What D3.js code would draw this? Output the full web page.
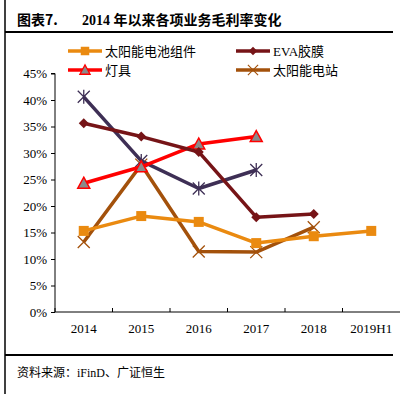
<!DOCTYPE html>
<html>
<head>
<meta charset="utf-8">
<script src="https://cdn.jsdelivr.net/npm/d3@7"></script>
<style>
  body { margin: 0; background: #fff; }
  text { font-family: "Liberation Serif", "Noto Sans CJK SC", serif; }
</style>
</head>
<body>
<div id="chart"></div>
<script>
var years = ['2014', '2015', '2016', '2017', '2018', '2019H1'];
var yTicks = [0, 5, 10, 15, 20, 25, 30, 35, 40, 45];

// values in %, null = no data
var module = [15.3, 18.1, 17.0, 13.0, 14.3, 15.3];   // 太阳能电池组件
var eva = [35.6, 33.1, 30.2, 17.9, 18.5, null];       // EVA胶膜
var lamp = [24.3, 27.4, 31.7, 33.1, null, null];      // 灯具
var station = [13.2, 27.8, 11.4, 11.3, 16.0, null];   // 太阳能电站
var other = [40.6, 28.5, 23.3, 26.8, null, null];     // not in legend

var width = 420, height = 394;
var svg = d3.select('#chart').append('svg')
    .attr('width', width)
    .attr('height', height);

// frame lines
svg.append('line').attr('x1', 5).attr('x2', 5).attr('y1', 0).attr('y2', height)
  .attr('stroke', '#000').attr('stroke-width', 1.5);
svg.append('line').attr('x1', 5).attr('x2', 393).attr('y1', 32).attr('y2', 32)
  .attr('stroke', '#000').attr('stroke-width', 2);
svg.append('line').attr('x1', 5).attr('x2', 393).attr('y1', 355).attr('y2', 355)
  .attr('stroke', '#000').attr('stroke-width', 2);

svg.append('text').attr('x', 17).attr('y', 25)
  .style('font-family', '"Noto Sans CJK SC", sans-serif')
  .style('font-size', '14px').style('font-weight', 'bold')
  .text('图表7.');
svg.append('text').attr('x', 82).attr('y', 25)
  .style('font-size', '14px').style('font-weight', 'bold')
  .text('2014 年以来各项业务毛利率变化');

svg.append('text').attr('x', 17).attr('y', 377)
  .style('font-size', '12px')
  .text('资料来源：iFinD、广证恒生');

var x = d3.scaleBand().domain(years).range([55, 400]);
var y = d3.scaleLinear().domain([0, 45]).range([312, 73.5]);

var g = svg.append('g');

g.append('g')
  .attr('transform', 'translate(55,0)')
  .call(d3.axisLeft(y).tickValues(yTicks).tickSize(4).tickFormat(function(d) { return d + '%'; }))
  .call(function(a) {
    a.selectAll('text').style('font-size', '13px').style('font-family', '"Liberation Serif", serif').attr('x', -8);
    a.select('.domain').attr('d', 'M-4,' + y(45) + 'H0V' + y(0));
  });

g.append('g')
  .attr('transform', 'translate(0,312)')
  .call(d3.axisBottom(x).tickSize(4).tickSizeOuter(0))
  .call(function(a) {
    a.selectAll('.tick line').attr('x1', -x.bandwidth() / 2).attr('x2', -x.bandwidth() / 2)
      .attr('y2', -4);
    a.selectAll('text').style('font-size', '13px').style('font-family', '"Liberation Serif", serif').attr('y', 12);
    a.select('.domain').attr('d', 'M55,0H400');
  });
// extra tick at right end of x axis is hidden in the reference; add the ticks between bands
g.append('line').attr('x1', 400).attr('x2', 400).attr('y1', 312).attr('y2', 312);

var line = d3.line()
  .defined(function(d) { return d != null; })
  .x(function(d, i) { return x(years[i]) + x.bandwidth() / 2; })
  .y(function(d) { return y(d); });

var series = [
  { name: '太阳能电站', data: station, color: '#A3510B', marker: 'x' },
  { name: 'other', data: other, color: '#3E2F55', marker: 'star' },
  { name: '太阳能电池组件', data: module, color: '#EA8A10', marker: 'square' },
  { name: '灯具', data: lamp, color: '#FF0000', marker: 'triangle' },
  { name: 'EVA胶膜', data: eva, color: '#761417', marker: 'diamond' }
];

function drawMarker(sel, type, color) {
  if (type === 'square') {
    sel.append('rect').attr('x', -5).attr('y', -5).attr('width', 10).attr('height', 10)
      .attr('fill', color);
  } else if (type === 'diamond') {
    sel.append('path').attr('d', 'M0,-5L5,0L0,5L-5,0Z').attr('fill', color);
  } else if (type === 'triangle') {
    sel.append('path').attr('d', 'M0,-6L6,5H-6Z').attr('fill', '#8a8a8a')
      .attr('stroke', color).attr('stroke-width', 1.5);
  } else if (type === 'x') {
    sel.append('path').attr('d', 'M-6,-6L6,6M-6,6L6,-6').attr('stroke', color).attr('stroke-width', 1.3);
  } else if (type === 'star') {
    sel.append('path').attr('d', 'M-6,-6L6,6M-6,6L6,-6M0,-7V7').attr('stroke', color).attr('stroke-width', 1.3);
  }
}

series.forEach(function(s) {
  g.append('path')
    .datum(s.data)
    .attr('fill', 'none')
    .attr('stroke', s.color)
    .attr('stroke-width', 3.5)
    .attr('stroke-linejoin', 'round')
    .attr('d', line);
  g.selectAll(null)
    .data(s.data.map(function(d, i) { return { v: d, i: i }; }).filter(function(d) { return d.v != null; }))
    .enter().append('g')
    .attr('transform', function(d) {
      return 'translate(' + (x(years[d.i]) + x.bandwidth() / 2) + ',' + y(d.v) + ')';
    })
    .each(function() { drawMarker(d3.select(this), s.marker, s.color); });
});

// legend
var legend = [
  { name: '太阳能电池组件', color: '#EA8A10', marker: 'square', x: 68, y: 51 },
  { name: 'EVA胶膜', color: '#761417', marker: 'diamond', x: 236, y: 51 },
  { name: '灯具', color: '#FF0000', marker: 'triangle', x: 68, y: 70 },
  { name: '太阳能电站', color: '#A3510B', marker: 'x', x: 236, y: 70 }
];
var lg = svg.append('g').selectAll('g').data(legend).enter().append('g')
  .attr('transform', function(d) { return 'translate(' + d.x + ',' + d.y + ')'; });
lg.append('line').attr('x1', 0).attr('x2', 34).attr('stroke', function(d) { return d.color; })
  .attr('stroke-width', 3.5);
lg.each(function(d) {
  var m = d3.select(this).append('g').attr('transform', 'translate(17,0) scale(0.85)');
  drawMarker(m, d.marker, d.color);
});
lg.append('text').attr('x', 37).attr('y', 5)
  .style('font-size', '13px')
  .text(function(d) { return d.name; });
</script>
</body>
</html>
